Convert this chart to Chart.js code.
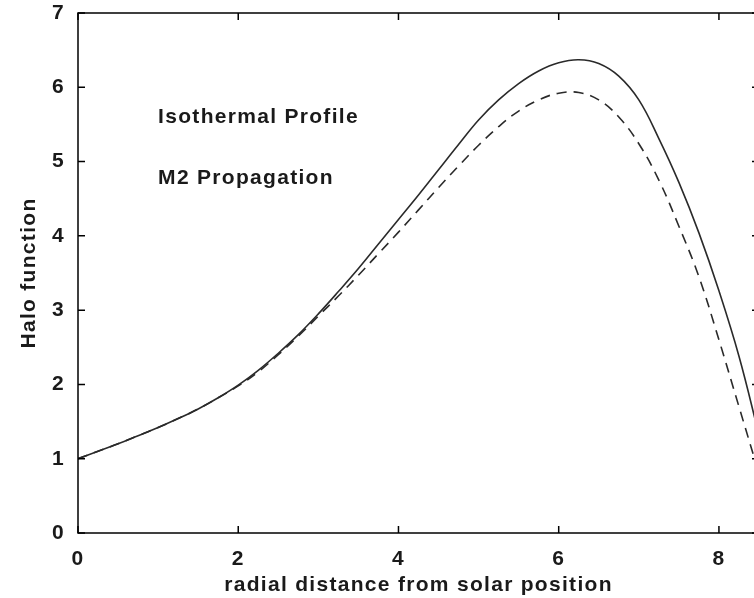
<!DOCTYPE html>
<html>
<head>
<meta charset="utf-8">
<script src="https://cdn.jsdelivr.net/npm/chart.js@4.4.1/dist/chart.umd.min.js"></script>
<style>
  html, body { margin: 0; padding: 0; background: #fff; overflow: hidden; }
  #wrap { width: 800px; height: 598px; }
</style>
</head>
<body>
<div id="wrap"><canvas id="chart" width="800" height="598"></canvas></div>
<script>
// radial distance samples and the two halo function curves
const radius = [0, 0.25, 0.5, 0.75, 1, 1.25, 1.5, 1.75, 2, 2.25, 2.5, 2.75, 3, 3.25, 3.5, 3.75,
  4, 4.25, 4.5, 4.75, 5, 5.25, 5.5, 5.75, 6, 6.25, 6.5, 6.75, 7, 7.25, 7.5, 7.75, 8, 8.25, 8.5]
const isothermal = [1.00, 1.10, 1.20, 1.31, 1.42, 1.54, 1.67, 1.82, 1.99, 2.19, 2.42, 2.67, 2.95, 3.25, 3.56, 3.89,
  4.22, 4.55, 4.89, 5.23, 5.56, 5.83, 6.05, 6.22, 6.33, 6.37, 6.32, 6.15, 5.83, 5.31, 4.72, 4.04, 3.26, 2.38, 1.32]
const m2 = [1.00, 1.10, 1.20, 1.31, 1.42, 1.54, 1.67, 1.82, 1.98, 2.17, 2.40, 2.65, 2.92, 3.19, 3.47, 3.76,
  4.05, 4.35, 4.65, 4.94, 5.22, 5.47, 5.68, 5.83, 5.92, 5.93, 5.83, 5.60, 5.24, 4.75, 4.13, 3.45, 2.60, 1.70, 0.80]

const xTicks = [0, 2, 4, 6, 8]
const yTicks = [0, 1, 2, 3, 4, 5, 6, 7]

const notes = [
  { text: "Isothermal Profile", x: 1.0, y: 5.6 },
  { text: "M2 Propagation", x: 1.0, y: 4.78 }
]

const FONT = "'Liberation Sans', Arial, Helvetica, sans-serif"
const SPACING = "1.3px"
const INK = "#1a1a1a"

const pairs = (ys) => radius.map((r, i) => ({ x: r, y: ys[i] }))

// wide helvetica look: letter spacing has to be set again after every canvas reset
const spacingPlugin = {
  id: "spacing",
  beforeUpdate(chart) { chart.ctx.letterSpacing = SPACING },
  beforeDraw(chart) { chart.ctx.letterSpacing = SPACING }
}

// matlab style box with inward ticks on all four sides, plus the text notes
const boxPlugin = {
  id: "box",
  afterDatasetsDraw(chart) {
    const { ctx, chartArea: a, scales } = chart
    const len = 7
    ctx.save()
    ctx.strokeStyle = "#000"
    ctx.lineWidth = 1.5
    ctx.strokeRect(a.left, a.top, a.right - a.left, a.bottom - a.top)
    ctx.beginPath()
    xTicks.forEach((v) => {
      const px = scales.x.getPixelForValue(v)
      ctx.moveTo(px, a.bottom); ctx.lineTo(px, a.bottom - len)
      ctx.moveTo(px, a.top); ctx.lineTo(px, a.top + len)
    })
    yTicks.forEach((v) => {
      const py = scales.y.getPixelForValue(v)
      ctx.moveTo(a.left, py); ctx.lineTo(a.left + len, py)
      ctx.moveTo(a.right, py); ctx.lineTo(a.right - len, py)
    })
    ctx.stroke()

    ctx.fillStyle = INK
    ctx.font = "bold 21px " + FONT
    ctx.letterSpacing = SPACING
    ctx.textBaseline = "middle"
    notes.forEach((n) => {
      ctx.fillText(n.text, scales.x.getPixelForValue(n.x), scales.y.getPixelForValue(n.y))
    })
    ctx.restore()
  }
}

const config = {
  type: "line",
  data: {
    datasets: [{
      label: "Isothermal",
      data: pairs(isothermal),
      borderColor: "#2a2a2a",
      borderWidth: 1.6,
      pointRadius: 0,
      tension: 0.4
    }, {
      label: "M2",
      data: pairs(m2),
      borderColor: "#2a2a2a",
      borderWidth: 1.6,
      borderDash: [10, 7],
      pointRadius: 0,
      tension: 0.4
    }]
  },
  options: {
    responsive: false,
    animation: false,
    layout: { padding: { top: 13, right: 41, left: 0, bottom: 0 } },
    plugins: {
      legend: { display: false },
      tooltip: { enabled: false }
    },
    scales: {
      x: {
        type: "linear",
        min: 0,
        max: 8.5,
        afterFit: (s) => { s.height = 65 },
        grid: { display: false },
        border: { display: false },
        ticks: {
          stepSize: 2,
          includeBounds: false,
          padding: 6,
          color: INK,
          font: { family: FONT, size: 21, weight: "bold" }
        },
        title: {
          display: true,
          text: "radial distance from solar position",
          color: INK,
          padding: { top: 0, bottom: 0 },
          font: { family: FONT, size: 21, weight: "bold" }
        }
      },
      y: {
        min: 0,
        max: 7,
        // the "7" label may poke above the plot box, don't reserve room for it
        afterFit: (s) => { s.width = 78; s.paddingTop = 0; s.paddingBottom = 0 },
        grid: { display: false },
        border: { display: false },
        ticks: {
          stepSize: 1,
          padding: 5,
          color: INK,
          font: { family: FONT, size: 21, weight: "bold" }
        },
        title: {
          display: true,
          text: "Halo function",
          color: INK,
          padding: { top: 17, bottom: 0 },
          font: { family: FONT, size: 21, weight: "bold" }
        }
      }
    }
  },
  plugins: [spacingPlugin, boxPlugin]
}

new Chart(document.getElementById("chart"), config)
</script>
</body>
</html>
